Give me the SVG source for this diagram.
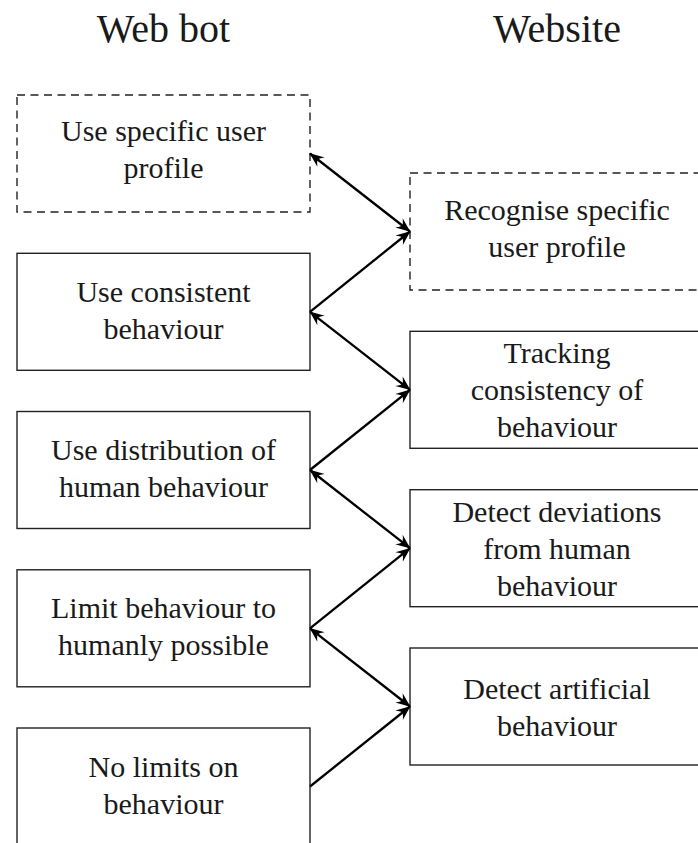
<svg xmlns="http://www.w3.org/2000/svg" width="698" height="843" viewBox="0 0 698 843">
<style>
text{font-family:"Liberation Serif","Times New Roman",serif;fill:#1a1a1a;text-anchor:middle}
.t{font-size:40px}
.b{font-size:30px}
.box{fill:#fff;stroke:#222;stroke-width:1.4}
.dash{stroke-dasharray:8 5.5}
.c{stroke:#000;stroke-width:2.3;fill:none}
.one{marker-end:url(#ah)}
.two{marker-start:url(#ah);marker-end:url(#ah)}
</style>
<defs>
<marker id="ah" viewBox="-15 -7 16 14" refX="0" refY="0" markerWidth="16" markerHeight="14" markerUnits="userSpaceOnUse" orient="auto-start-reverse">
<path d="M0.5,0 L-14,-6 Q-9.5,-1.2 -10,0 Q-9.5,1.2 -14,6 Z" fill="#000"/>
</marker>
</defs>
<g id="title-webbot"><text class="t" x="163.5" y="42">Web bot</text></g>
<g id="title-website"><text class="t" x="557" y="42">Website</text></g>

<g id="L1"><rect class="box dash" x="17" y="95" width="293" height="117"/>
<text class="b" x="163.5" y="141">Use specific user</text><text class="b" x="163.5" y="178">profile</text></g>
<g id="L2"><rect class="box" x="17" y="253.3" width="293" height="117"/>
<text class="b" x="163.5" y="302">Use consistent</text><text class="b" x="163.5" y="339">behaviour</text></g>
<g id="L3"><rect class="box" x="17" y="411.5" width="293" height="117"/>
<text class="b" x="163.5" y="460">Use distribution of</text><text class="b" x="163.5" y="497">human behaviour</text></g>
<g id="L4"><rect class="box" x="17" y="569.8" width="293" height="117"/>
<text class="b" x="163.5" y="617.5">Limit behaviour to</text><text class="b" x="163.5" y="654.5">humanly possible</text></g>
<g id="L5"><rect class="box" x="17" y="728" width="293" height="117"/>
<text class="b" x="163.5" y="777">No limits on</text><text class="b" x="163.5" y="814">behaviour</text></g>

<g id="R1"><rect class="box dash" x="410" y="173" width="294" height="117"/>
<text class="b" x="557" y="220">Recognise specific</text><text class="b" x="557" y="257">user profile</text></g>
<g id="R2"><rect class="box" x="410" y="331.3" width="294" height="117"/>
<text class="b" x="557" y="363">Tracking</text><text class="b" x="557" y="400">consistency of</text><text class="b" x="557" y="437">behaviour</text></g>
<g id="R3"><rect class="box" x="410" y="489.7" width="294" height="117"/>
<text class="b" x="557" y="522">Detect deviations</text><text class="b" x="557" y="559">from human</text><text class="b" x="557" y="596">behaviour</text></g>
<g id="R4"><rect class="box" x="410" y="648" width="294" height="117"/>
<text class="b" x="557" y="699">Detect artificial</text><text class="b" x="557" y="736">behaviour</text></g>

<g id="connectors">
<line class="c two" x1="310" y1="153.5" x2="410" y2="231.5"/>
<line class="c one" x1="310" y1="311.8" x2="410" y2="231.5"/>
<line class="c two" x1="310" y1="311.8" x2="410" y2="389.8"/>
<line class="c one" x1="310" y1="470" x2="410" y2="389.8"/>
<line class="c two" x1="310" y1="470" x2="410" y2="548.2"/>
<line class="c one" x1="310" y1="628.3" x2="410" y2="548.2"/>
<line class="c two" x1="310" y1="628.3" x2="410" y2="706.5"/>
<line class="c one" x1="310" y1="786.5" x2="410" y2="706.5"/>
</g>
</svg>
